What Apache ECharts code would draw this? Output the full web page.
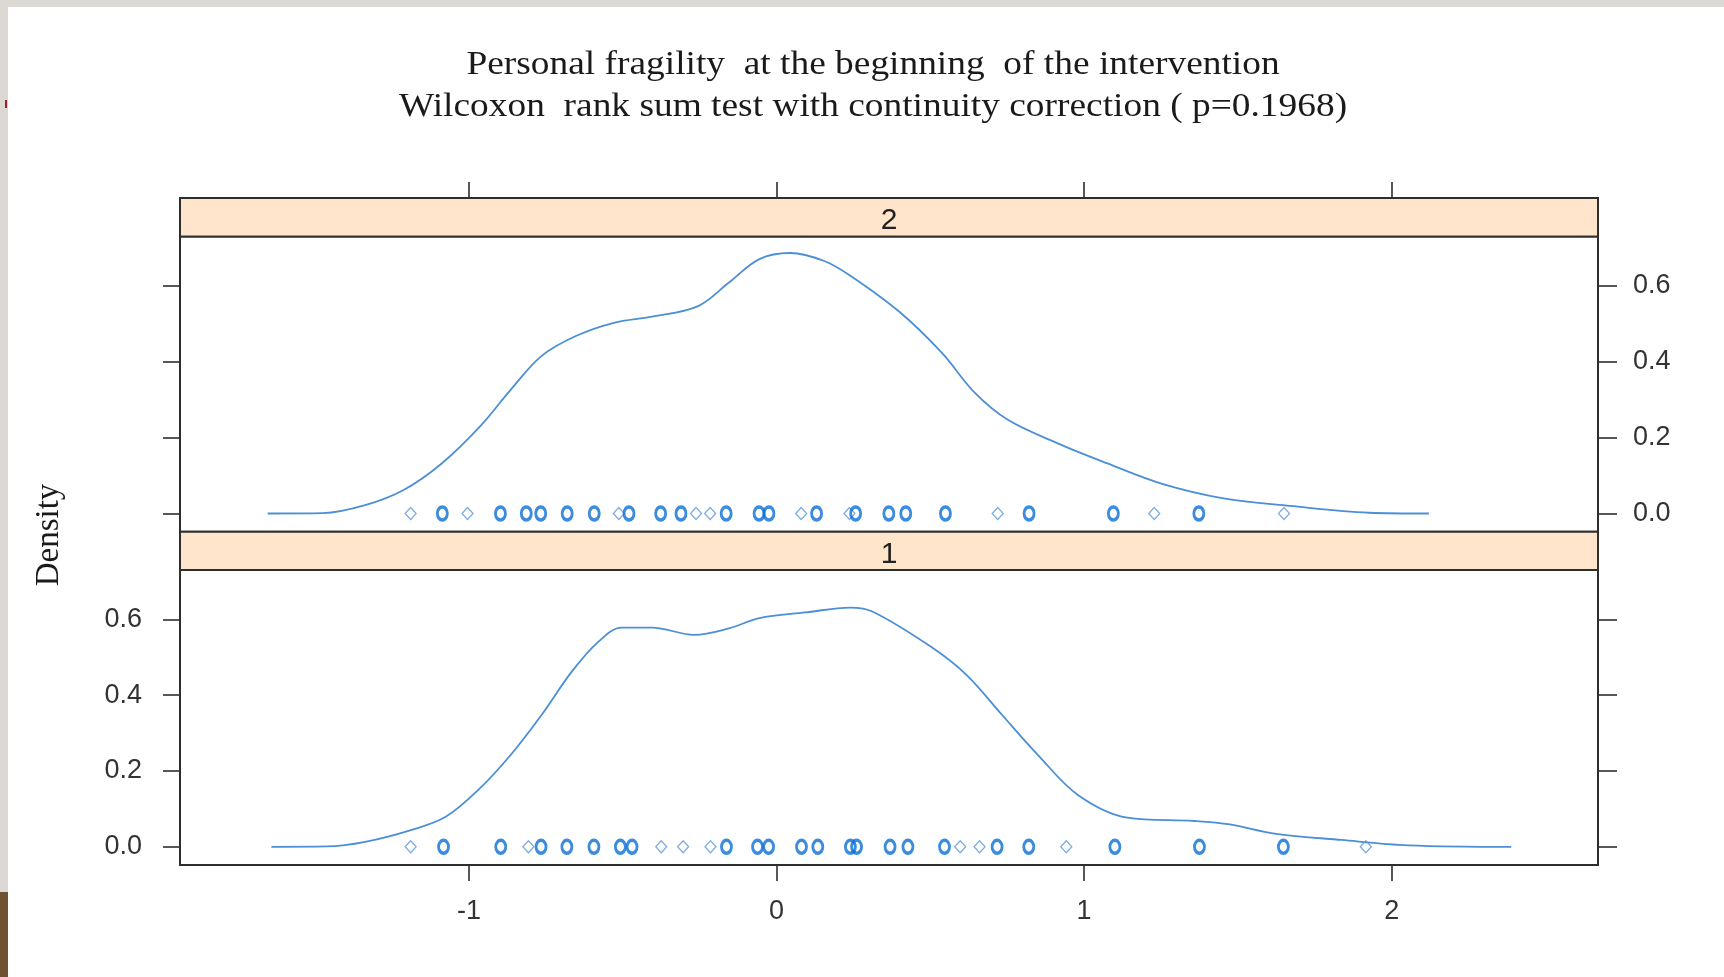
<!DOCTYPE html>
<html>
<head>
<meta charset="utf-8">
<script src="https://cdn.jsdelivr.net/npm/echarts@6/dist/echarts.min.js"></script>
<style>
html,body{margin:0;padding:0;background:#fff;}
#chart{width:1724px;height:977px;}
</style>
</head>
<body>
<div id="chart"></div>
<script>
// ---- data ----
const titleLine1 = 'Personal fragility  at the beginning  of the intervention';
const titleLine2 = 'Wilcoxon  rank sum test with continuity correction ( p=0.1968)';
const yAxisTitle = 'Density';
const panelLabels = ['2', '1'];
const xTicks = [-1, 0, 1, 2];
const yTicks = [0, 0.2, 0.4, 0.6];

// density curve, group 2 (upper panel): [x, density]
const density2 = [
  [-1.655, 0], [-1.475, 0.001], [-1.338, 0.022], [-1.213, 0.062], [-1.089, 0.132],
  [-0.965, 0.229], [-0.865, 0.326], [-0.765, 0.415], [-0.653, 0.468], [-0.529, 0.503],
  [-0.405, 0.519], [-0.255, 0.547], [-0.155, 0.609], [-0.056, 0.671], [0.044, 0.687],
  [0.155, 0.666], [0.240, 0.627], [0.402, 0.530], [0.537, 0.424], [0.645, 0.318],
  [0.752, 0.247], [0.914, 0.185], [1.076, 0.132], [1.251, 0.079], [1.453, 0.040],
  [1.669, 0.020], [1.925, 0.002], [2.121, 0]
];
// density curve, group 1 (lower panel)
const density1 = [
  [-1.643, 0], [-1.462, 0.001], [-1.338, 0.013], [-1.189, 0.044], [-1.076, 0.079],
  [-0.965, 0.154], [-0.865, 0.242], [-0.765, 0.347], [-0.666, 0.462], [-0.579, 0.541],
  [-0.504, 0.578], [-0.405, 0.578], [-0.268, 0.559], [-0.155, 0.576], [-0.056, 0.603],
  [0.093, 0.618], [0.240, 0.631], [0.313, 0.620], [0.501, 0.528], [0.618, 0.453],
  [0.734, 0.347], [0.850, 0.242], [0.981, 0.136], [1.140, 0.077], [1.358, 0.068],
  [1.474, 0.059], [1.619, 0.035], [1.837, 0.018], [2.055, 0.004], [2.389, 0]
];
// observations (rug points at density 0): light = single, bold = overlapping
const points2Light = [-1.19, -1.005, -0.513, -0.262, -0.216, 0.080, 0.237, 0.719, 1.228, 1.650];
const points2Bold = [-1.087, -0.898, -0.814, -0.767, -0.681, -0.593, -0.480, -0.377, -0.311,
  -0.164, -0.057, -0.025, 0.130, 0.257, 0.365, 0.420, 0.549, 0.821, 1.095, 1.373];
const points1Light = [-1.19, -0.807, -0.375, -0.304, -0.215, 0.597, 0.660, 0.942, 1.916];
const points1Bold = [-1.083, -0.897, -0.766, -0.682, -0.594, -0.508, -0.470, -0.163, -0.062,
  -0.026, 0.081, 0.134, 0.240, 0.260, 0.369, 0.427, 0.546, 0.717, 0.820, 1.100, 1.375, 1.648];

// ---- layout / styles ----
const X_MIN = -1.940, X_MAX = 2.671;
const Y_MIN = -0.048, Y_MAX = 0.730;
const LEFT = 180, RIGHT = 126;
const frameColor = '#2e2e2e';
const lineColor = '#4b8fd6';
const boldColor = '#0a6ed6';
const lightColor = '#5c97d6';
const labelFont = 'Liberation Sans';

const grids = [
  {left: LEFT, right: RIGHT, top: 198, height: 38.7, show: true, backgroundColor: '#ffe5cc', borderColor: frameColor, borderWidth: 2},
  {left: LEFT, right: RIGHT, top: 236.7, height: 295, show: true, backgroundColor: '#ffffff', borderColor: frameColor, borderWidth: 2},
  {left: LEFT, right: RIGHT, top: 531.7, height: 38.3, show: true, backgroundColor: '#ffe5cc', borderColor: frameColor, borderWidth: 2},
  {left: LEFT, right: RIGHT, top: 570, height: 295, show: true, backgroundColor: '#ffffff', borderColor: frameColor, borderWidth: 2}
];

const tickStyle = {color: frameColor, width: 1.6};
const noLine = {show: false, onZero: false};
function xAx(gi, opts) {
  return Object.assign({
    type: 'value', gridIndex: gi, min: X_MIN, max: X_MAX,
    axisLine: noLine, splitLine: {show: false},
    axisTick: {show: false}, axisLabel: {show: false}
  }, opts || {});
}
function yAx(gi, opts) {
  return Object.assign({
    type: 'value', gridIndex: gi, min: Y_MIN, max: Y_MAX,
    axisLine: noLine, splitLine: {show: false},
    axisTick: {show: false}, axisLabel: {show: false}
  }, opts || {});
}
const fmt1 = v => (Math.abs(v) < 1e-9 ? 0 : v).toFixed(1);
const labelStyle = {fontSize: 27, fontFamily: labelFont, color: '#333'};

const xAxes = [
  xAx(0, {position: 'top', axisTick: {show: true, customValues: xTicks, length: 16, lineStyle: tickStyle}}),
  xAx(1),
  xAx(2),
  xAx(3, {position: 'bottom',
    axisTick: {show: true, customValues: xTicks, length: 16, lineStyle: tickStyle},
    axisLabel: Object.assign({show: true, customValues: xTicks, margin: 33,
      formatter: v => String(Math.round(v))}, labelStyle)})
];
const yAxes = [
  {type: 'value', gridIndex: 0, min: 0, max: 1, show: false},
  yAx(1, {position: 'left', axisTick: {show: true, customValues: yTicks, length: 17, lineStyle: tickStyle}}),
  yAx(1, {position: 'right',
    axisTick: {show: true, customValues: yTicks, length: 19, lineStyle: tickStyle},
    axisLabel: Object.assign({show: true, customValues: yTicks, margin: 35, formatter: fmt1}, labelStyle)}),
  {type: 'value', gridIndex: 2, min: 0, max: 1, show: false},
  yAx(3, {position: 'left',
    axisTick: {show: true, customValues: yTicks, length: 17, lineStyle: tickStyle},
    axisLabel: Object.assign({show: true, customValues: yTicks, margin: 38, formatter: fmt1}, labelStyle)}),
  yAx(3, {position: 'right', axisTick: {show: true, customValues: yTicks, length: 19, lineStyle: tickStyle}})
];

function densLine(data, xi, yi) {
  return {type: 'line', xAxisIndex: xi, yAxisIndex: yi, data: data, smooth: 0.35,
    showSymbol: false, silent: true, lineStyle: {color: lineColor, width: 1.8}, z: 3};
}
function pts(vals, xi, yi, bold) {
  return {type: 'scatter', xAxisIndex: xi, yAxisIndex: yi, silent: true,
    data: vals.map(v => [v, 0]),
    symbol: bold ? 'circle' : 'diamond',
    symbolSize: bold ? [10, 13] : [11, 12],
    itemStyle: {color: 'rgba(0,0,0,0)', borderColor: bold ? boldColor : lightColor, borderWidth: bold ? 3.2 : 1.3},
    z: bold ? 5 : 4};
}

const option = {
  backgroundColor: '#ffffff',
  animation: false,
  grid: grids,
  xAxis: xAxes,
  yAxis: yAxes,
  series: [
    densLine(density2, 1, 1),
    pts(points2Light, 1, 1, false),
    pts(points2Bold, 1, 1, true),
    densLine(density1, 3, 4),
    pts(points1Light, 3, 4, false),
    pts(points1Bold, 3, 4, true)
  ],
  graphic: [
    {type: 'rect', shape: {x: 0, y: 0, width: 1724, height: 7}, style: {fill: '#dcd9d4'}, silent: true},
    {type: 'rect', shape: {x: 0, y: 0, width: 8, height: 892}, style: {fill: '#dcd9d4'}, silent: true},
    {type: 'rect', shape: {x: 0, y: 892, width: 8, height: 85}, style: {fill: '#6e5232'}, silent: true},
    {type: 'rect', shape: {x: 5, y: 100, width: 2, height: 8}, style: {fill: '#a0202a'}, silent: true},
    {type: 'text', x: 873, y: 65, scaleX: 1.1, silent: true,
      style: {text: titleLine1, font: '34px "Liberation Serif"', fill: '#1a1a1a', textAlign: 'center', textVerticalAlign: 'middle'}},
    {type: 'text', x: 873, y: 107, scaleX: 1.1, silent: true,
      style: {text: titleLine2, font: '34px "Liberation Serif"', fill: '#1a1a1a', textAlign: 'center', textVerticalAlign: 'middle'}},
    {type: 'text', x: 49, y: 535, rotation: Math.PI / 2, silent: true,
      style: {text: yAxisTitle, font: '33px "Liberation Serif"', fill: '#1a1a1a', textAlign: 'center', textVerticalAlign: 'middle'}},
    {type: 'text', x: 889, y: 221, silent: true, z: 10,
      style: {text: panelLabels[0], font: '30px "Liberation Sans"', fill: '#222', textAlign: 'center', textVerticalAlign: 'middle'}},
    {type: 'text', x: 889, y: 555, silent: true, z: 10,
      style: {text: panelLabels[1], font: '30px "Liberation Sans"', fill: '#222', textAlign: 'center', textVerticalAlign: 'middle'}}
  ]
};
const chart = echarts.init(document.getElementById('chart'), null, {renderer: 'canvas'});
chart.setOption(option);
</script>
</body>
</html>
